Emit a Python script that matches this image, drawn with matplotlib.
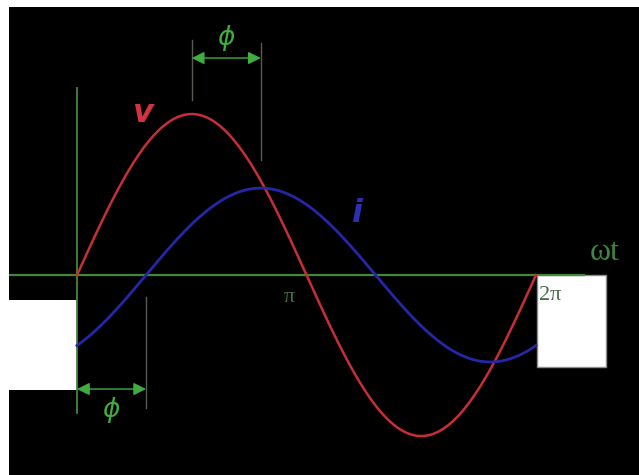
import numpy as np
import matplotlib
matplotlib.use("Agg")
import matplotlib.pyplot as plt
from matplotlib.patches import Rectangle

# ---- data (parameters) ----
V_amp = 1.0          # voltage amplitude
I_amp = 0.54         # current amplitude
phi = 0.945          # phase lag of current (rad, ~54 deg)
n_pts = 400
tick_labels = ["\u03c0", "2\u03c0"]
tick_pos = [np.pi, 2 * np.pi]

wt = np.linspace(0, 2 * np.pi, n_pts)
v = V_amp * np.sin(wt)
i = I_amp * np.sin(wt - phi)

# ---- figure ----
W, H = 639, 475
fig = plt.figure(figsize=(W / 100, H / 100), dpi=100, facecolor="white")
ax = fig.add_axes([9 / W, 0, 630 / W, 468 / H])
ax.set_facecolor("black")
ax.set_xlim(-0.931, 7.693)
ax.set_ylim(-1.242, 1.665)
ax.axis("off")
ax.add_patch(Rectangle((0, 0), 1, 1, transform=ax.transAxes, color="black", zorder=0))

green_axis = (0.27, 0.52, 0.24)
dim_gray = (0.33, 0.36, 0.33)
arrow_green = (0.25, 0.68, 0.25)

# white boxes
ax.add_patch(Rectangle((-0.931, -0.714), 0.931, 0.559, facecolor="white", edgecolor="none", zorder=2))
ax.add_patch(Rectangle((6.297, -0.571), 0.945, 0.571, facecolor="white", edgecolor=(0.55, 0.55, 0.55),
                       lw=1, zorder=2))

# axes lines
ax.plot([-0.931, 6.94], [0, 0], color=green_axis, lw=1.6, zorder=3)
ax.plot([0, 0], [-0.857, 1.161], color=green_axis, lw=1.3, zorder=3)

# curves
ax.plot(wt, v, color=(0.78, 0.18, 0.22), lw=1.8, zorder=4)
ax.plot(wt, i, color=(0.15, 0.15, 0.66), lw=2.0, zorder=4)

# dimension lines (top)
x1, x2 = np.pi / 2, np.pi / 2 + phi
ax.plot([x1, x1], [1.087, 1.46], color=dim_gray, lw=1, zorder=3)
ax.plot([x2, x2], [0.714, 1.441], color=dim_gray, lw=1, zorder=3)
ax.annotate("", xy=(x1, 1.348), xytext=(x2, 1.348),
            arrowprops=dict(arrowstyle="<|-|>", color=arrow_green, lw=1,
                            mutation_scale=19, shrinkA=0, shrinkB=0), zorder=5)
ax.text((x1 + x2) / 2, 1.472, r"$\phi$", color=arrow_green, fontsize=19,
        ha="center", va="center", zorder=5)

# dimension lines (bottom)
ax.plot([phi, phi], [-0.137, -0.826], color=dim_gray, lw=1, zorder=3)
ax.annotate("", xy=(0, -0.708), xytext=(phi, -0.708),
            arrowprops=dict(arrowstyle="<|-|>", color=arrow_green, lw=1,
                            mutation_scale=19, shrinkA=0, shrinkB=0), zorder=5)
ax.text(phi / 2, -0.84, r"$\phi$", color=arrow_green, fontsize=19,
        ha="center", va="center", zorder=5)

# labels
ax.text(0.903, 1.006, "v", color=(0.82, 0.20, 0.25), fontsize=23, fontweight="semibold",
        fontstyle="italic", ha="center", va="center", zorder=5)
ax.text(3.83, 0.385, "i", color=(0.18, 0.18, 0.70), fontsize=23, fontweight="semibold",
        fontstyle="italic", ha="center", va="center", zorder=5)
ax.text(7.22, 0.14, "\u03c9t", color=(0.25, 0.52, 0.25), fontsize=23,
        family=["Liberation Serif", "DejaVu Serif"], ha="center", va="center", zorder=5)
ax.text(tick_pos[0] - 0.23, -0.14, tick_labels[0], color=(0.25, 0.45, 0.25), fontsize=16,
        family=["Liberation Serif", "DejaVu Serif"], ha="center", va="center", zorder=5)
ax.text(tick_pos[1] + 0.04, -0.13, tick_labels[1], color=(0.28, 0.42, 0.30), fontsize=16,
        family=["Liberation Serif", "DejaVu Serif"], ha="left", va="center", zorder=5)

fig.savefig("out.png", dpi=100, facecolor="white")
